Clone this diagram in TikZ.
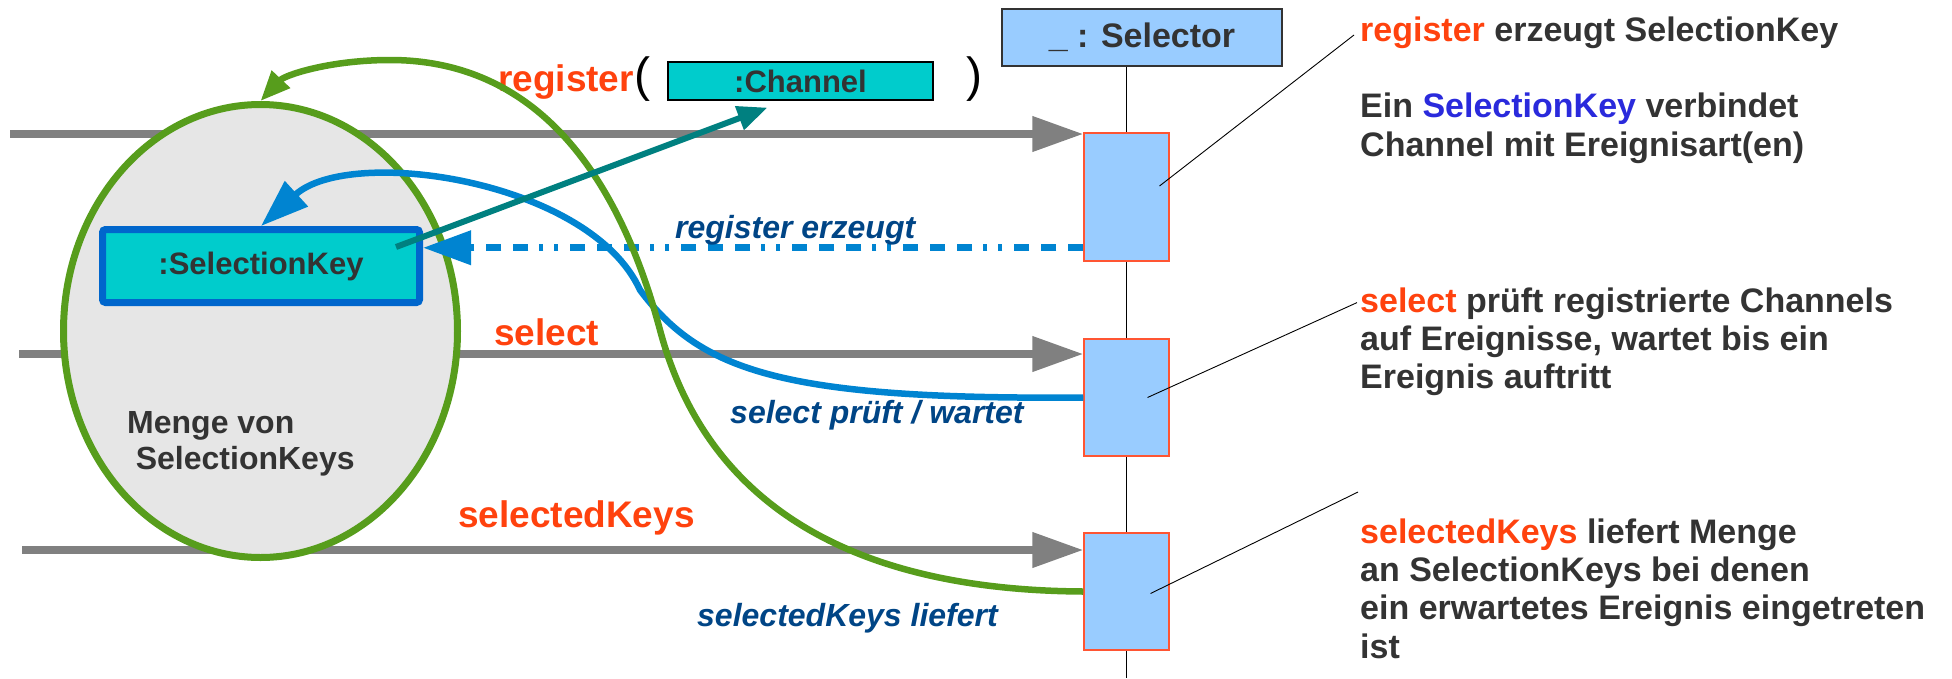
\documentclass[tikz,border=0pt]{standalone}
\usepackage{fontspec}
\setmainfont{Liberation Sans}
\usetikzlibrary{
	positioning				% Allows base right=of style positioning
	, arrows.meta			% Allows Triangle tips with fixed sizes
	, calc					% Allows offsets from node anchors
	, shapes.geometric		% Allows the ellipse shape
}

\definecolor{darktext}{HTML}{333333}
\definecolor{hlorange}{HTML}{FF420E}
\definecolor{keyblue}{HTML}{2A2ADC}
\definecolor{labelblue}{HTML}{004586}
\definecolor{flowblue}{HTML}{0084D1}
\definecolor{setgreen}{HTML}{579D1C}
\definecolor{refteal}{HTML}{008080}
\definecolor{msggray}{HTML}{808080}
\definecolor{objcyan}{HTML}{00CCCC}
\definecolor{keyborder}{HTML}{0066CC}
\definecolor{actfill}{HTML}{99CCFF}
\definecolor{actborder}{HTML}{FF5533}
\definecolor{setfill}{HTML}{E6E6E6}

\newcommand{\callname}[1]{\textcolor{hlorange}{#1}}

\begin{document}
\begin{tikzpicture}[
		x=1pt, y=-1pt
		, msgarrow/.style={draw=msggray, line width=7.5pt, -{Triangle[length=51pt,width=34pt]}}
		, flowarrow/.style={draw=flowblue, line width=6.5pt, -{Triangle[length=48pt,width=33pt]}}
		, setarrow/.style={draw=setgreen, line width=6.5pt, -{Triangle[length=30pt,width=24pt]}}
		, refarrow/.style={draw=refteal, line width=6pt, -{Triangle[length=30pt,width=24pt]}}
		, dashdots/.style={dash pattern=on 15pt off 12pt on 15pt off 12pt on 15pt off 12pt on 4pt off 11pt on 4pt off 11pt}
		, activation/.style={draw=actborder, fill=actfill, line width=1.5pt, minimum width=85pt, inner sep=0pt}
		, objbox/.style={fill=objcyan, text=darktext, font=\fontsize{31}{34}\selectfont\bfseries, inner sep=0pt}
		, callword/.style={font=\fontsize{37}{40}\selectfont\bfseries, text=hlorange, inner sep=0pt, anchor=base west}
		, flowlabel/.style={font=\fontsize{32}{36}\selectfont\bfseries\itshape, text=labelblue, inner sep=0pt, anchor=base west}
		, sidenote/.style={font=\fontsize{34}{38.3}\selectfont\bfseries, text=darktext, inner sep=0pt, anchor=base west, align=left}
		, leader/.style={draw=black, line width=0.9pt}
		, paren/.style={font=\fontsize{48}{50}\selectfont, inner sep=0pt}
	]
	\useasboundingbox (0,0) rectangle (1952,678);

	% Selector object with its lifeline and activations
	\node[draw=darktext, fill=actfill, line width=1.5pt, minimum width=280pt, minimum height=57pt,
		text=darktext, font=\fontsize{34}{36}\selectfont\bfseries] (selector) at (1142,37.5) {\_ : Selector};
	\coordinate (lifeend) at (1126.5,678);
	\draw[line width=1pt] (lifeend |- selector.south) -- (lifeend);
	\node[activation, minimum height=128pt] (act1) at (1126.5,197) {};
	\node[activation, minimum height=117pt] (act2) at (1126.5,397.5) {};
	\node[activation, minimum height=117pt] (act3) at (1126.5,591.5) {};

	% Incoming calls
	\coordinate (regin) at (10,134);
	\coordinate (selin) at (19,354);
	\coordinate (keysin) at (22,550);
	\draw[msgarrow] (regin) -- (regin -| act1.west);
	\draw[msgarrow] (selin) -- (selin -| act2.west);
	\draw[msgarrow] (keysin) -- (keysin -| act3.west);

	\node[callword] (regcall) at (498,91) {register};
	\node[paren, base right=0pt of regcall] (openparen) {(};
	\node[objbox, draw=black, line width=1.2pt, minimum width=265pt, minimum height=38pt] (chan) at (800.5,81) {:Channel};
	\node[paren, anchor=base west] (closeparen) at (966,91) {)};
	\node[callword] (selcall) at (494,345) {select};
	\node[callword] (keyscall) at (458,527) {selectedKeys};

	% The set of keys and the key itself
	\node[ellipse, draw=setgreen, fill=setfill, line width=7pt, minimum width=394pt, minimum height=453pt, inner sep=0pt] (keyset) at (260.5,331) {};
	\node[objbox, draw=keyborder, line width=7pt, rounded corners=3pt, minimum width=317pt, minimum height=73pt] (skey) at (261,266) {:SelectionKey};
	% base of a multi-line node sits on its last line
	\node[text=darktext, font=\fontsize{32}{36}\selectfont\bfseries, inner sep=0pt, anchor=base west, align=left] (setname) at (127,469) {Menge von\\\hspace*{0.27em}SelectionKeys};

	% Answers coming back from the selector
	\coordinate (regback) at ($(act1.south west)+(0,-14)$);
	\draw[flowarrow, dashdots, line width=7pt] (regback) -- (regback -| skey.east);
	\draw[flowarrow] (act2.west) .. controls (780,400) and (700,370) .. (640,290)
		.. controls (590,180) and (350,145) .. (skey.north);
	\draw[setarrow] (act3.west) .. controls (820,590) and (700,480) .. (660,330)
		.. controls (620,180) and (540,60) .. (390,60)
		.. controls (330,60) and (285,75) .. (keyset.north);
	\draw[refarrow] ($(skey.east)+(-27,-19)$) -- ($(chan.south)+(-33,7)$);

	\node[flowlabel] (regflow) at (675,238) {register erzeugt};
	\node[flowlabel] (selflow) at (730,423) {select prüft / wartet};
	\node[flowlabel] (keysflow) at (697,626) {selectedKeys liefert};

	% Notes on the right
	\node[sidenote] (regnote) at (1360,156) {\callname{register} erzeugt SelectionKey\\[38.3pt]Ein \textcolor{keyblue}{SelectionKey} verbindet\\Channel mit Ereignisart(en)};
	\node[sidenote] (selnote) at (1360,388.6) {\callname{select} prüft registrierte Channels\\auf Ereignisse, wartet bis ein\\Ereignis auftritt};
	\node[sidenote] (keysnote) at (1360,658) {\callname{selectedKeys} liefert Menge\\an SelectionKeys bei denen\\ein erwartetes Ereignis eingetreten\\ist};

	\draw[leader] ($(act1.center)+(33,-11)$) -- ($(regnote.base west)+(-6,-121)$);
	\draw[leader] ($(act2.center)+(21,0)$) -- ($(selnote.base west)+(-3,-86)$);
	\draw[leader] ($(act3.center)+(24,2)$) -- ($(keysnote.base west)+(-2,-166)$);
\end{tikzpicture}
\end{document}
